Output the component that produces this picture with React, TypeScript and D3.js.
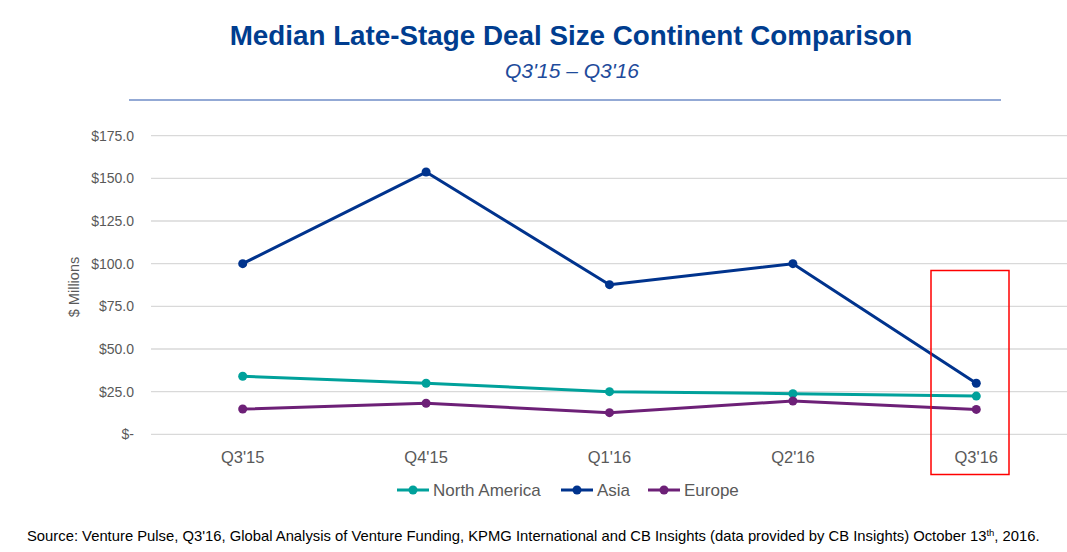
import { useEffect, useRef } from "react";
import * as d3 from "d3";

const quarters = ["Q3'15", "Q4'15", "Q1'16", "Q2'16", "Q3'16"];
const northAmerica = [34.0, 29.9, 25.0, 23.8, 22.4];
const asia = [100.0, 153.7, 87.7, 100.0, 29.9];
const europe = [14.8, 18.2, 12.7, 19.5, 14.6];
const yTicks = [0, 25, 50, 75, 100, 125, 150, 175];

const seriesList = [
    { name: "North America", values: northAmerica, color: "#00a19b" },
    { name: "Asia", values: asia, color: "#00338d" },
    { name: "Europe", values: europe, color: "#6d2077" },
];

const W = 1067;
const H = 552;
const FONT = "'Liberation Sans', Arial, sans-serif";

export default function App() {
    const svgRef = useRef<SVGSVGElement>(null);

    useEffect(() => {
        if (!svgRef.current) return;
        const svg = d3.select(svgRef.current);
        svg.selectAll("*").remove();

        const x = d3.scaleBand().domain(quarters).range([151, 1068]);
        const cx = (q: string) => (x(q) ?? 0) + x.bandwidth() / 2;
        const y = d3.scaleLinear().domain([0, 175]).range([434.3, 135.7]);

        // title block
        svg.append("text")
            .attr("x", 571).attr("y", 45)
            .attr("text-anchor", "middle")
            .attr("font-family", FONT).attr("font-weight", "bold").attr("font-size", 27.8)
            .attr("fill", "#003d8f")
            .text("Median Late-Stage Deal Size Continent Comparison");
        svg.append("text")
            .attr("x", 572).attr("y", 78)
            .attr("text-anchor", "middle")
            .attr("font-family", FONT).attr("font-style", "italic").attr("font-size", 21)
            .attr("fill", "#1e4b9b")
            .text("Q3'15 \u2013 Q3'16");
        svg.append("line")
            .attr("x1", 129).attr("x2", 1001).attr("y1", 100).attr("y2", 100)
            .attr("stroke", "#6f8dc7").attr("stroke-width", 1.5);

        // gridlines + y labels
        const g = svg.append("g");
        g.selectAll("line.grid")
            .data(yTicks)
            .enter()
            .append("line")
            .attr("x1", 151).attr("x2", 1068)
            .attr("y1", (d) => y(d)).attr("y2", (d) => y(d))
            .attr("stroke", "#d9d9d9").attr("stroke-width", 1.3);
        g.selectAll("text.ytick")
            .data(yTicks)
            .enter()
            .append("text")
            .attr("x", 134).attr("y", (d) => y(d) + 5)
            .attr("text-anchor", "end")
            .attr("font-family", FONT).attr("font-size", 14)
            .attr("fill", "#595959")
            .text((d) => (d === 0 ? "$-" : "$" + d.toFixed(1)));
        svg.append("text")
            .attr("transform", "translate(79,287) rotate(-90)")
            .attr("text-anchor", "middle")
            .attr("font-family", FONT).attr("font-size", 14.5)
            .attr("fill", "#595959")
            .text("$ Millions");

        // x labels
        g.selectAll("text.xtick")
            .data(quarters)
            .enter()
            .append("text")
            .attr("x", (d) => cx(d)).attr("y", 463)
            .attr("text-anchor", "middle")
            .attr("font-family", FONT).attr("font-size", 16.5)
            .attr("fill", "#595959")
            .text((d) => d);

        // lines
        const line = d3.line<number>()
            .x((_, i) => cx(quarters[i]))
            .y((d) => y(d));
        seriesList.forEach((s) => {
            g.append("path")
                .attr("d", line(s.values) ?? "")
                .attr("fill", "none")
                .attr("stroke", s.color).attr("stroke-width", 3)
                .attr("stroke-linejoin", "round");
            g.selectAll(null)
                .data(s.values)
                .enter()
                .append("circle")
                .attr("cx", (_, i) => cx(quarters[i]))
                .attr("cy", (d) => y(d))
                .attr("r", 4.5)
                .attr("fill", s.color);
        });

        // legend
        const legendX = [397, 561, 648];
        seriesList.forEach((s, i) => {
            const lg = svg.append("g").attr("transform", `translate(${legendX[i]},490)`);
            lg.append("line").attr("x1", 0).attr("x2", 32).attr("y1", 0).attr("y2", 0)
                .attr("stroke", s.color).attr("stroke-width", 3);
            lg.append("circle").attr("cx", 16).attr("cy", 0).attr("r", 4.5).attr("fill", s.color);
            lg.append("text").attr("x", 36).attr("y", 6)
                .attr("font-family", FONT).attr("font-size", 17)
                .attr("fill", "#595959")
                .text(s.name);
        });

        // highlight box
        svg.append("rect")
            .attr("x", 931).attr("y", 270.5).attr("width", 78).attr("height", 204)
            .attr("fill", "none").attr("stroke", "#ff0000").attr("stroke-width", 1.5);

        // source
        const src = svg.append("text")
            .attr("x", 27).attr("y", 541)
            .attr("font-family", FONT).attr("font-size", 14.8)
            .attr("fill", "#000");
        src.append("tspan").text("Source: Venture Pulse, Q3'16, Global Analysis of Venture Funding, KPMG International and CB Insights (data provided by CB Insights) October 13");
        src.append("tspan").attr("dy", -5).attr("font-size", 9.5).text("th");
        src.append("tspan").attr("dy", 5).text(", 2016.");
    }, []);

    return (
        <svg
            ref={svgRef}
            width={W}
            height={H}
            style={{ position: "absolute", left: 0, top: 0, background: "#fff" }}
        />
    );
}
